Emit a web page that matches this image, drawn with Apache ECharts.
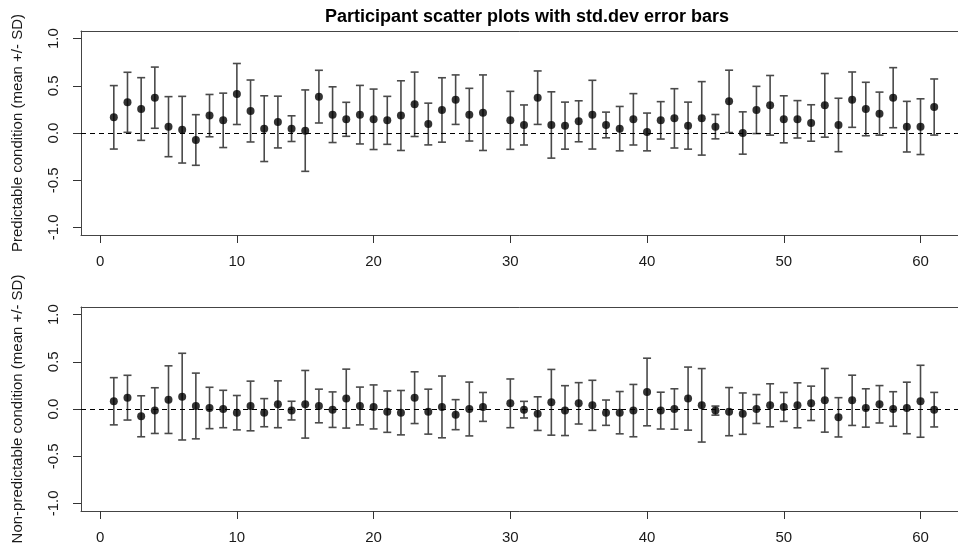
<!DOCTYPE html>
<html><head><meta charset="utf-8">
<script src="https://cdn.jsdelivr.net/npm/echarts@6/dist/echarts.min.js"></script>
<style>html,body{margin:0;padding:0;background:#fff}#c{width:958px;height:550px}</style>
</head><body><div id="c"></div>
<script>
const titleText = 'Participant scatter plots with std.dev error bars';
const yTitleTop = 'Predictable condition (mean +/- SD)';
const yTitleBottom = 'Non-predictable condition (mean +/- SD)';

const participants = [1,2,3,4,5,6,7,8,9,10,11,12,13,14,15,16,17,18,19,20,21,22,23,24,25,26,27,28,
  30,31,32,33,34,35,36,37,38,39,40,41,42,43,44,45,46,47,48,49,50,51,52,53,54,55,56,57,58,59,60,61];

const xTicks = [0,10,20,30,40,50,60];
const yTicks = [-1,-0.5,0,0.5,1];

const predMean = [0.166,0.325,0.254,0.374,0.067,0.035,-0.074,0.184,0.134,0.413,0.233,0.046,0.116,0.046,0.025,0.385,0.194,0.145,0.194,0.145,
  0.134,0.184,0.304,0.095,0.244,0.353,0.194,0.215,
  0.134,0.085,0.374,0.085,0.078,0.124,0.194,0.085,0.046,0.145,0.011,
  0.134,0.155,0.078,0.155,0.067,0.335,0.0,0.244,0.293,0.145,0.145,0.106,0.293,0.085,0.353,0.254,0.205,0.374,0.067,0.067,0.275];
const predSD = [0.336,0.318,0.332,0.324,0.318,0.353,0.268,0.224,0.288,0.323,0.328,0.348,0.274,0.136,0.431,0.279,0.295,0.180,0.31,0.32,
  0.254,0.369,0.341,0.221,0.341,0.262,0.279,0.40,
  0.307,0.212,0.283,0.351,0.249,0.217,0.364,0.136,0.235,0.272,0.20,
  0.198,0.314,0.249,0.389,0.129,0.33,0.224,0.25,0.316,0.249,0.198,0.193,0.337,0.283,0.293,0.283,0.228,0.318,0.268,0.295,0.297];

const nonpredMean = [0.082,0.120,-0.077,-0.017,0.099,0.131,0.032,0.011,0.0,-0.039,0.032,-0.039,0.050,-0.017,0.050,0.032,-0.007,0.110,0.032,0.022,
  -0.028,-0.039,0.120,-0.028,0.022,-0.060,0.0,0.022,
  0.060,-0.007,-0.049,0.071,-0.017,0.060,0.039,-0.039,-0.039,-0.017,0.180,
  -0.017,0.0,0.110,0.039,-0.017,-0.028,-0.049,0.0,0.039,0.022,0.039,0.060,0.092,-0.088,0.092,0.011,0.050,0.0,0.011,0.082,-0.007];
const nonpredSD = [0.25,0.237,0.217,0.242,0.358,0.459,0.348,0.219,0.198,0.182,0.263,0.149,0.248,0.099,0.358,0.178,0.188,0.312,0.2,0.233,
  0.219,0.235,0.274,0.238,0.327,0.159,0.285,0.153,
  0.258,0.088,0.178,0.348,0.264,0.219,0.265,0.134,0.224,0.277,0.358,
  0.195,0.214,0.334,0.389,0.048,0.255,0.219,0.153,0.228,0.153,0.238,0.182,0.337,0.208,0.266,0.203,0.198,0.183,0.273,0.381,0.183];

const FONT = '"Liberation Sans", Arial, Helvetica, sans-serif';
const TXT = '#1a1a1a';
const BOX = '#444';

function errData(m, s) { return participants.map((p, i) => [p, m[i] - s[i], m[i] + s[i]]); }
function ptData(m) { return participants.map((p, i) => [p, m[i]]); }

function xAxisCfg(gi) {
  return {
    type: 'value', gridIndex: gi, min: -1.4, max: 63.4, position: 'bottom',
    axisLine: { show: true, onZero: false, lineStyle: { color: BOX, width: 1 } },
    axisTick: { show: true, inside: false, length: 8, customValues: xTicks, lineStyle: { color: '#333', width: 1 } },
    axisLabel: { customValues: xTicks, margin: 19, fontSize: 15, fontFamily: FONT, color: TXT, formatter: v => String(v) },
    splitLine: { show: false }
  };
}
function xTopCfg(gi) {
  return {
    type: 'value', gridIndex: gi, min: -1.4, max: 63.4, position: 'top',
    axisLine: { show: true, onZero: false, lineStyle: { color: BOX, width: 1 } },
    axisTick: { show: false }, axisLabel: { show: false }, splitLine: { show: false }
  };
}
function yAxisCfg(gi, name) {
  return {
    type: 'value', gridIndex: gi, min: -1.08, max: 1.08, position: 'left',
    name: name, nameLocation: 'middle', nameGap: 56, nameRotate: 90,
    nameTextStyle: { fontSize: 15, fontFamily: FONT, color: TXT },
    axisLine: { show: true, onZero: false, lineStyle: { color: BOX, width: 1 } },
    axisTick: { show: true, inside: false, length: 8, customValues: yTicks, lineStyle: { color: '#333', width: 1 } },
    axisLabel: { customValues: yTicks, rotate: 90, margin: 20, fontSize: 15, fontFamily: FONT, color: TXT, formatter: v => v.toFixed(1) },
    splitLine: { show: false }
  };
}

function errSeries(gi, m, s) {
  return {
    type: 'custom', xAxisIndex: gi, yAxisIndex: gi, z: 2,
    data: errData(m, s),
    encode: { x: 0, y: [1, 2] },
    renderItem: function (params, api) {
      const x = api.value(0), lo = api.value(1), hi = api.value(2);
      const a = api.coord([x, lo]), b = api.coord([x, hi]);
      const w = 4;
      const style = { stroke: '#4a4a4a', lineWidth: 1.6 };
      return { type: 'group', children: [
        { type: 'line', shape: { x1: a[0], y1: a[1], x2: b[0], y2: b[1] }, style: style },
        { type: 'line', shape: { x1: a[0] - w, y1: a[1], x2: a[0] + w, y2: a[1] }, style: style },
        { type: 'line', shape: { x1: b[0] - w, y1: b[1], x2: b[0] + w, y2: b[1] }, style: style }
      ] };
    }
  };
}
function ptSeries(gi, m) {
  return {
    type: 'scatter', xAxisIndex: gi, yAxisIndex: gi, z: 3,
    data: ptData(m), symbol: 'circle', symbolSize: 8,
    itemStyle: { color: '#000' },
    markLine: {
      silent: true, symbol: 'none', label: { show: false },
      lineStyle: { color: '#000', type: [5, 4], width: 1 },
      data: [{ yAxis: 0 }]
    }
  };
}

const chart = echarts.init(document.getElementById('c'));
chart.setOption({
  animation: false,
  backgroundColor: '#fff',
  title: {
    text: titleText, left: 320, top: 3,
    textStyle: { fontSize: 18, fontWeight: 'bold', fontFamily: FONT, color: '#000' }
  },
  grid: [
    { left: 81, top: 31, height: 204, right: -9, show: false, containLabel: false, outerBoundsMode: 'none' },
    { left: 81, top: 307, height: 204, right: -9, show: false, containLabel: false, outerBoundsMode: 'none' }
  ],
  xAxis: [xAxisCfg(0), xAxisCfg(1), xTopCfg(0), xTopCfg(1)],
  yAxis: [yAxisCfg(0, yTitleTop), yAxisCfg(1, yTitleBottom)],
  series: [
    errSeries(0, predMean, predSD), ptSeries(0, predMean),
    errSeries(1, nonpredMean, nonpredSD), ptSeries(1, nonpredMean)
  ]
});
</script>
</body></html>
